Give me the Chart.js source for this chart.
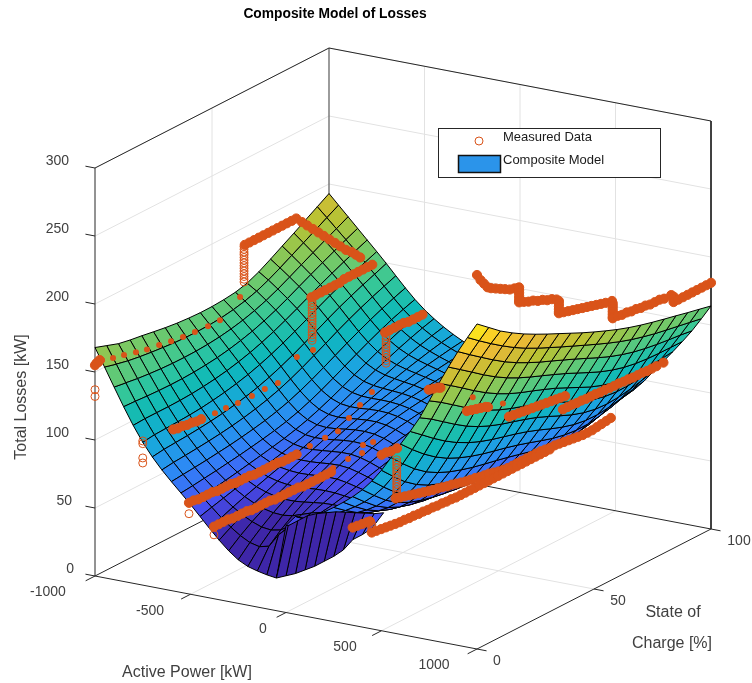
<!DOCTYPE html>
<html>
<head>
<meta charset="utf-8">
<title>Composite Model of Losses</title>
<script src="https://cdn.jsdelivr.net/npm/chart.js@4"></script>
<style>html,body{margin:0;padding:0;background:#fff}canvas{display:block}</style>
</head>
<body>
<canvas id="c" width="752" height="683"></canvas>
<script>
var powerTicks = [-1000, -500, 0, 500, 1000];
var socTicks = [0, 50, 100];
var lossTicks = [0, 50, 100, 150, 200, 250, 300];

// surface grid: one row per power value, one column per state of charge
var powerGrid = [-1000,-950,-900,-850,-800,-750,-700,-650,-600,-550,-500,-450,-400,-350,-300,-250,-200,-150,-100,-50,0,50,100,150,200,250,300,350,400,450,500,550,600,650,700,750,800,850,900,950,1000];
var socGrid = [0,5,10,15,20,25,30,35,40,45,50,55,60,65,70,75,80,85,90,95,100];
var surfaceLoss = [
[168.0,165.0,162.0,160.3,159.0,157.5,156.1,155.0,154.3,153.9,154.0,154.6,155.7,158.0,161.9,166.8,172.0,177.1,182.4,187.7,193.0],
[155.0,152.7,150.7,149.3,148.2,147.3,146.5,146.1,146.1,146.4,147.2,148.6,150.6,153.4,157.2,161.7,166.5,171.3,176.1,181.0,185.8],
[141.6,140.3,139.0,138.1,137.4,137.0,136.9,137.1,137.7,138.7,140.2,142.2,144.8,148.0,151.9,156.3,160.9,165.4,169.9,174.2,178.6],
[128.5,128.1,127.5,127.1,126.9,127.0,127.4,128.2,129.3,130.9,133.0,135.5,138.6,142.2,146.3,150.7,155.1,159.4,163.5,167.5,171.4],
[116.1,116.6,116.6,116.6,116.8,117.3,118.2,119.4,121.0,123.1,125.6,128.6,132.1,136.0,140.2,144.6,149.0,153.0,156.9,160.6,164.2],
[105.0,106.1,106.5,106.9,107.4,108.2,109.4,110.9,112.8,115.1,118.0,121.3,125.1,129.2,133.6,138.0,142.3,146.3,150.0,153.5,157.0],
[95.6,96.8,97.4,98.0,98.8,99.8,101.1,102.7,104.7,107.1,110.1,113.6,117.5,121.8,126.3,130.8,135.1,139.0,142.7,146.1,149.6],
[87.4,88.5,89.2,90.0,90.9,92.0,93.3,94.9,96.9,99.3,102.2,105.7,109.7,114.1,118.6,123.2,127.5,131.5,135.2,138.6,141.9],
[80.1,81.0,81.8,82.7,83.8,84.9,86.3,87.9,89.7,92.0,94.8,98.3,102.2,106.6,111.1,115.7,120.0,124.1,127.8,131.2,134.3],
[73.1,74.0,75.1,76.2,77.5,78.8,80.3,81.9,83.7,85.9,88.6,92.0,95.8,100.1,104.6,109.0,113.3,117.3,121.1,124.3,127.2],
[66.0,67.4,68.9,70.5,72.1,73.8,75.5,77.3,79.2,81.5,84.2,87.5,91.2,95.2,99.5,103.7,107.8,111.6,115.1,118.3,121.0],
[58.5,60.9,63.2,65.5,67.7,69.9,72.0,74.2,76.5,78.9,81.8,85.0,88.5,92.3,96.1,100.0,103.6,107.1,110.3,113.2,115.7],
[51.0,54.6,58.0,61.2,64.1,67.0,69.7,72.5,75.2,78.1,81.1,84.3,87.6,91.0,94.4,97.6,100.8,103.7,106.4,108.9,111.0],
[43.8,48.9,53.5,57.7,61.5,65.1,68.5,71.8,75.1,78.4,81.6,84.8,87.8,90.7,93.6,96.3,98.8,101.1,103.3,105.2,106.9],
[37.3,44.0,49.9,55.0,59.7,64.0,68.0,71.9,75.7,79.2,82.6,85.6,88.4,90.9,93.1,95.2,97.2,99.0,100.6,102.1,103.3],
[32.0,40.3,47.3,53.4,58.8,63.7,68.2,72.4,76.4,80.1,83.4,86.2,88.7,90.7,92.5,94.2,95.6,97.0,98.2,99.3,100.0],
[28.5,38.6,46.4,52.9,58.8,64.0,68.7,73.1,77.0,80.6,83.6,86.2,88.3,90.0,91.5,92.7,93.9,95.0,96.0,96.9,97.5],
[26.5,40.3,47.8,53.9,59.5,64.6,69.1,73.3,77.0,80.2,83.0,85.2,87.1,88.6,89.8,90.9,91.8,92.8,93.8,94.8,95.8],
[25.0,50.0,52.3,56.2,60.5,64.8,68.9,72.6,75.8,78.7,81.2,83.2,84.9,86.3,87.5,88.5,89.5,90.5,91.6,92.8,94.0],
[24.0,56.6,56.7,58.6,61.3,64.5,67.7,70.8,73.7,76.2,78.4,80.3,82.0,83.4,84.6,85.7,86.8,88.0,89.2,90.6,92.0],
[64.0,60.0,59.8,60.3,61.6,63.6,66.0,68.6,71.0,73.3,75.3,77.2,78.8,80.2,81.5,82.7,84.0,85.3,86.8,88.4,90.0],
[72.0,65.5,62.6,61.5,61.6,62.7,64.4,66.4,68.5,70.5,72.4,74.1,75.6,76.9,78.3,79.6,81.0,82.6,84.3,86.1,88.0],
[71.0,67.7,64.5,62.4,61.7,62.0,63.0,64.5,66.2,67.9,69.6,71.1,72.5,73.7,75.0,76.3,77.8,79.6,81.6,83.8,86.0],
[75.0,70.5,66.4,63.6,62.1,61.7,62.1,63.0,64.3,65.6,67.0,68.3,69.4,70.5,71.6,72.9,74.5,76.4,78.8,81.3,83.9],
[79.3,73.7,68.7,65.0,62.8,61.8,61.6,62.0,62.7,63.6,64.6,65.6,66.7,67.4,68.3,69.4,71.0,73.2,75.9,78.8,81.7],
[84.0,77.3,71.4,67.0,64.1,62.5,61.8,61.5,61.7,62.2,62.8,63.4,64.0,64.6,65.3,66.2,67.8,70.2,73.2,76.6,80.0],
[89.1,81.5,74.7,69.6,66.2,64.1,62.8,62.0,61.6,61.6,61.7,62.0,62.3,62.6,62.9,63.7,65.2,67.7,71.1,74.9,78.6],
[94.6,86.4,78.9,73.3,69.4,66.8,65.0,63.8,62.9,62.3,62.0,61.9,61.8,61.7,61.8,62.3,63.7,66.3,69.9,74.0,77.7],
[101.0,92.4,84.5,78.4,74.1,71.2,69.0,67.4,66.1,65.1,64.3,63.7,63.2,62.7,62.3,62.6,63.9,66.5,70.2,74.4,78.0],
[108.8,99.9,91.7,85.3,80.8,77.6,75.1,73.1,71.5,70.2,69.0,67.8,66.7,65.8,65.1,65.1,66.2,68.7,72.3,76.5,80.4],
[118.0,109.1,100.8,94.3,89.5,86.0,83.2,81.0,79.2,77.5,75.9,74.3,72.6,71.1,70.0,69.7,70.6,72.8,76.2,80.1,84.0],
[128.7,119.8,111.6,105.0,100.0,96.2,93.2,90.7,88.7,86.8,84.8,82.6,80.3,78.3,76.8,76.1,76.7,78.5,81.4,84.6,87.4],
[140.0,131.5,123.8,117.2,111.9,107.8,104.5,101.8,99.6,97.5,95.1,92.4,89.5,86.8,84.9,83.9,84.1,85.5,87.7,90.3,92.0],
[150.6,143.7,136.7,130.3,124.8,120.3,116.7,113.8,111.4,109.0,106.3,103.1,99.6,96.4,93.9,92.5,92.3,93.4,95.3,97.5,99.4],
[162.0,156.6,150.3,144.0,138.2,133.4,129.6,126.4,123.8,121.1,118.1,114.4,110.5,106.8,103.9,102.1,101.5,102.2,103.7,105.8,108.0],
[175.8,170.3,164.1,157.8,151.9,146.9,142.7,139.3,136.4,133.4,130.1,126.2,122.0,118.0,114.9,112.8,111.8,112.0,113.1,114.7,116.4],
[190.0,184.0,177.8,171.4,165.5,160.3,155.9,152.3,149.1,145.8,142.3,138.2,134.0,130.0,126.8,124.4,123.1,122.8,123.2,124.1,125.0],
[203.3,197.1,190.8,184.4,178.5,173.3,168.9,165.1,161.6,158.1,154.4,150.4,146.3,142.5,139.3,136.9,135.3,134.4,134.0,133.9,133.8],
[216.0,209.4,203.0,196.7,190.9,185.8,181.4,177.4,173.8,170.1,166.4,162.5,158.6,155.0,152.0,149.5,147.7,146.3,145.2,144.3,143.0],
[227.7,220.9,214.4,208.3,202.7,197.8,193.4,189.4,185.5,181.7,177.9,174.2,170.6,167.3,164.4,162.0,159.9,158.2,156.6,155.0,153.3],
[239.0,232.0,225.0,219.2,214.0,209.4,205.1,201.0,196.9,192.8,189.0,185.4,182.0,179.0,176.4,174.1,172.0,170.0,167.9,166.0,164.0]
];

// dark strip along the front of the valley (soc 0 to 5)
var stripPower = [-50,0,50,100,150,200,250,300,350,400,450];
var stripLow = [24,27,30,34,38,43,48,54,63,68,74];
var stripHigh = [58,63,68,71,73,75,76,77,78,79,81];

// measured runs drawn solid: each run has one power and a list of soc / loss values
var runPower = [-508,-377,-1000,-983,-967,-950,-933,-917,-900,-883,-867,-850,-833,-817,-800,-700,-400,500,400,800,800,800,1000,1000,1000,1000,1000,1000,1000,1000,300,0,-100,-750,-1000];
var runSoc = [
[0,2,4,6,8,10,12,14,16,18,20,22,24,26,28,30,32,34,36,38,40,42,44,46],
[0,2,4,6,8,10,12,14,16,18,20,22,24,26,28,30,32,34,36,38,40,42,44,46,48,50],
[64,66,68,70,72,74,76,78,80,82,84,86],
[87],[88],[89],[90],[91],[92],[93],[94],[95],[96],[96.5],[97],
[68,70,72,74,76,78,80,82,84,86,88,90,92,94],
[75,77,79,81,83,85,87,89,91],
[6,8,10,12,14,16,18,20,22,24,26,28,30,32,34,36,38,40,42,44,46,48,50,52,54,56,58,60,62,64,66,68,70,72,74,76,78,80,82,84,86,88,90,92,94,96,98],
[4,6,8,10,12,14,16,18,20,22,24,26,28,30,32,34,36,38,40,42,44,46,48,50,52,54,56,58,60,62,64,66,68,70,72,74,76,78,80],
[12,14,16,18,20,21],
[30,32,34,36,38,40,42,44,46,48,50,52,54],
[53,55,57,59,61,63,65,67,69,71,73,75,77,79,81,83,85,87,89,91,93,96],
[0,1.5,3,4.5,6,8,10,12,14,16,17.5,18,18,18,18,18,18],
[18,20,22,24,26,28,30,32,34,35],
[35,35,35,35],
[35,37,39,41,43,45,47,49,51,53,55,57.7],
[58,58,58,58,58,58],
[58,60,62,64,66,68,70,72,74,76,78,80,83],
[84,84],
[84,86,88,90,92,94,96,98,100],
[4,6,8,10,11.4],
[61,63,65,66],
[49,51,53,55.6],
[13,15,17,19,21,23,25],
[0,0.7,1.4,2]
];
var runLoss = [
[67,67,66,66,66,66,65,65,65,65,64,64,64,64,63,63,63,63,63,63,62,62,62,62],
[53,53,53,53,52,52,52,52,51,51,51,51,51,50,50,50,50,50,50,49,49,49,49,49,49,49],
[187,187,187,187,187,187,187,187,187,187,187,187],
[184],[181],[178],[175],[172],[169],[166],[163],[160],[158],[156],[154],
[153,153,153,153,153,153,153,154,154,154,154,154,154,154],
[129,129,129,129,129,128,128,128,128],
[92,91,90,89,88,87,86,85,84,83.5,82.5,81.5,81,80,79,78,77.5,77,76,75.5,75,74,73,72.5,72,72,72,72,72,72,72,72,71.5,71,71,70.5,70,69.5,69,68.5,68,68,68,68.5,69,69.5,70],
[66,65.5,65,64.5,64,63.5,63,63,62.5,62.5,62,62,61.5,61.5,61,61,60.5,60.5,60,60,60,60,60,60,60,60,60,60,60,60,60,60,60,60,60,60,60,60,60],
[159,158,157,156,155,154],
[139,138.5,138,137.5,137,136.5,136,135.5,135,134.5,134,133.5,133],
[124,124,124,123.5,123.5,123,123,123,122.5,122.5,122,122,122,121.5,121.5,121,121,121,120.5,120.5,120.5,120.5],
[275,270,266,262,260,258,256,254,252,251,250,250,248,246,244,242,240],
[239,237.6,236,235,233,232,230,229,227,225],
[223,221,219,217],
[216,215,214,213,212,211,210,209,208,207,206,205],
[203,201,199,197,195,193],
[192,192,191,191,190,190,189,189,188,188,188,187,187],
[185,183],
[181,181,181,181,181,181,181,181,181],
[67,66.5,66,65.5,65],
[110,109,108,107],
[70,70,69,69],
[103,102,102,101,101,100,100],
[155,156,156,157]
];

// runs where the single circles can still be told apart
var ringPower = [-1000,-750,-508,-377,-1000,-700,-400,500,400];
var ringSoc = [0,0,0,0,63.7,68.3,75.4,6.5,4];
var ringLoss = [
[137,132],
[106,104,93.5,89.8],
[59],
[47],
[160,162,164,166,168,170,172,174,176,178,180,182,184,186],
[121,123,125,127,129,131,133,135,137,139,141,143,145,147,149,151],
[106,108,110,112,114,116,118,120,122,124,126],
[120,118,116,114,112,110,108,106,104,102,100,98,96,94],
[72,70,68]
];

// measured points that only just show through the surface
var peekPower = [-1000,-1000,-1000,-1000,-1000,-1000,-1000,-1000,-1000,-1000,-1000,-1000,-650,-650,-650,-650,-650,-650,-650,-650,-300,-300,-300,-300,-300,-300,-300,-300,-300,-300,-300,800,800];
var peekSoc = [3,7.7,12.4,17.5,22.2,27.4,32.5,37.6,42.7,48.3,53.4,62,22.7,27.4,32.5,38.5,44,49.6,57.7,64.6,34.7,41.2,46.7,51.4,56.1,61.2,44.6,51,57,57.4,61.7,14.5,27.4];
var peekLoss = [156,153.5,151.6,149,147,145.6,144,142.6,141.8,141,141,150.5,109,108.7,108,107.8,108,107.6,119.6,118.6,83.8,84,84,89.6,95,100,58.8,59.8,59,64.5,62.9,167,151];

var parulaStops = [[62,38,168],[72,82,244],[46,135,247],[26,166,222],[13,184,186],[55,200,151],[125,201,97],[186,194,51],[230,184,56],[250,207,38],[249,251,20]];

var orange = '#D95319';
var dark = '#262626';
var gridGray = '#e2e2e2';

function lossColor(z) {
    var t = Math.max(0, Math.min(1, (z - 48) / 191)) * 10;
    var i = Math.min(9, Math.floor(t));
    var f = t - i;
    var a = parulaStops[i], b = parulaStops[i + 1];
    return 'rgb(' + [0, 1, 2].map(function (k) { return Math.round(a[k] + (b[k] - a[k]) * f); }).join(',') + ')';
}

// 3D view: turns power, soc and loss into the x/y values of the chart's scales
function project(p, s, z) {
    return {
        x: 95 + 0.191 * (p + 1000) + 2.34 * s,
        y: 576 + 0.0365 * (p + 1000) - 1.2 * s - 1.36 * z
    };
}
function depth(p, s, z) {
    return 0.1108 * (p + 1000) - 3.64 * s + 0.448 * z;
}

var datasets = [];

function addLine(a, b, color, width, order) {
    datasets.push({
        type: 'line',
        data: [project(a[0], a[1], a[2]), project(b[0], b[1], b[2])],
        borderColor: color, borderWidth: width, pointRadius: 0, fill: false, tension: 0, order: order, clip: false
    });
}

function addCell(corners, fillColor, order) {
    datasets.push({
        type: 'line',
        cellColor: fillColor,
        data: corners.concat([corners[0]]).map(function (q) { return project(q[0], q[1], q[2]); }),
        borderColor: '#000', borderWidth: 1, pointRadius: 0, fill: false, tension: 0, order: order, clip: false
    });
}

// grid on the walls and the floor
lossTicks.slice(1).forEach(function (z) {
    addLine([-1000, 0, z], [-1000, 100, z], gridGray, 1, 2e6);
    addLine([-1000, 100, z], [1000, 100, z], gridGray, 1, 2e6);
});
addLine([-1000, 50, 0], [-1000, 50, 300], gridGray, 1, 2e6);
addLine([-1000, 50, 0], [1000, 50, 0], gridGray, 1, 2e6);
[-500, 0, 500].forEach(function (p) {
    addLine([p, 100, 0], [p, 100, 300], gridGray, 1, 2e6);
    addLine([p, 0, 0], [p, 100, 0], gridGray, 1, 2e6);
});

// box and ticks
addLine([-1000, 0, 0], [-1000, 0, 300], dark, 1, 1e6);
addLine([-1000, 0, 300], [-1000, 100, 300], dark, 1, 1e6);
addLine([-1000, 100, 300], [1000, 100, 300], dark, 1, 1e6);
addLine([1000, 100, 300], [1000, 100, 0], dark, 1, 1e6);
addLine([-1000, 100, 0], [-1000, 100, 300], '#666', 1.3, 1e6);
addLine([-1000, 0, 0], [1000, 0, 0], dark, 1, 1e6);
addLine([1000, 0, 0], [1000, 100, 0], dark, 1, 1e6);
addLine([-1000, 0, 0], [-1000, 100, 0], dark, 1, 1e6);
addLine([-1000, 100, 0], [1000, 100, 0], dark, 1, 1e6);
powerTicks.forEach(function (p) { addLine([p, 0, 0], [p, -4, 0], dark, 1, 1e6); });
socTicks.forEach(function (s) { addLine([1000, s, 0], [1050, s, 0], dark, 1, 1e6); });
lossTicks.forEach(function (z) { addLine([-1000, 0, z], [-1050, 0, z], dark, 1, 1e6); });

// surface cells, far ones first (a lower order is painted later)
for (var i = 0; i < powerGrid.length - 1; i++) {
    for (var j = 0; j < socGrid.length - 1; j++) {
        var corners = [[i, j], [i + 1, j], [i + 1, j + 1], [i, j + 1]].map(function (q) {
            return [powerGrid[q[0]], socGrid[q[1]], surfaceLoss[q[0]][q[1]]];
        });
        var d = 0;
        corners.forEach(function (q) { d += depth(q[0], q[1], q[2]) / 4; });
        addCell(corners, lossColor(surfaceLoss[i][j]), -d);
    }
}
for (var k = 0; k < stripPower.length - 1; k++) {
    addCell([
        [stripPower[k], 0, stripLow[k]],
        [stripPower[k + 1], 0, stripLow[k + 1]],
        [stripPower[k + 1], 5, stripHigh[k + 1]],
        [stripPower[k], 5, stripHigh[k]]
    ], lossColor(stripLow[k]), -9e5);
}

// measured data
var runPoints = [];
runPower.forEach(function (p, r) {
    runSoc[r].forEach(function (s, n) { runPoints.push(project(p, s, runLoss[r][n])); });
});
var ringPoints = [];
ringPower.forEach(function (p, r) {
    ringLoss[r].forEach(function (z) { ringPoints.push(project(p, ringSoc[r], z)); });
});
var peekPoints = peekPower.map(function (p, n) { return project(p, peekSoc[n], peekLoss[n]); });

datasets.push({ type: 'scatter', label: 'Measured Data', data: runPoints, pointRadius: 4.6, pointBackgroundColor: orange, pointBorderColor: orange, pointBorderWidth: 1, showLine: false, order: -1e6, clip: false });
datasets.push({ type: 'scatter', data: ringPoints, pointRadius: 4, pointBackgroundColor: 'rgba(0,0,0,0)', pointBorderColor: orange, pointBorderWidth: 1, showLine: false, order: -1e6, clip: false });
datasets.push({ type: 'scatter', data: peekPoints, pointRadius: 3, pointBackgroundColor: orange, pointBorderColor: orange, pointBorderWidth: 0, showLine: false, order: -1e6, clip: false });

// fills a cell from its points right before the library strokes the outline
var cellFill = {
    id: 'cellFill',
    beforeDatasetDraw: function (chart, args) {
        var color = chart.data.datasets[args.index].cellColor;
        if (!color) return;
        var g = chart.ctx, pts = args.meta.data;
        g.beginPath();
        g.moveTo(pts[0].x, pts[0].y);
        for (var n = 1; n < 4; n++) g.lineTo(pts[n].x, pts[n].y);
        g.closePath();
        g.fillStyle = color;
        g.fill();
    }
};

var labels = {
    id: 'labels',
    afterDraw: function (chart) {
        var g = chart.ctx;
        var family = '"Liberation Sans", Arial, sans-serif';
        var small = '14px ' + family, big = '16px ' + family, legendFont = '13px ' + family;
        function text(s, x, y, align, font, color) {
            g.font = font || small;
            g.fillStyle = color || '#404040';
            g.textAlign = align || 'center';
            g.textBaseline = 'middle';
            g.fillText(s, x, y);
        }
        g.save();
        text('Composite Model of Losses', 335, 14, 'center', 'bold 13.8px ' + family, '#000');
        lossTicks.forEach(function (z) {
            var s = String(z);
            text(s, s.length == 3 ? 69 : (s.length == 2 ? 72 : 74), project(-1000, 0, z).y - 7, 'right');
        });
        text('-1000', 48, 592); text('-500', 150, 611); text('0', 263, 629); text('500', 345, 647); text('1000', 434, 665);
        text('0', 497, 661); text('50', 618, 601); text('100', 739, 541);
        text('Active Power [kW]', 187, 673, 'center', big);
        text('State of', 673, 613, 'center', big);
        text('Charge [%]', 672, 644, 'center', big);
        g.save();
        g.translate(22, 397);
        g.rotate(-Math.PI / 2);
        text('Total Losses [kW]', 0, 0, 'center', big);
        g.restore();

        // legend
        g.fillStyle = '#fff';
        g.strokeStyle = dark;
        g.lineWidth = 1;
        g.fillRect(438.5, 128.5, 222, 49);
        g.strokeRect(438.5, 128.5, 222, 49);
        g.beginPath();
        g.arc(479, 141, 4, 0, Math.PI * 2);
        g.strokeStyle = orange;
        g.stroke();
        g.fillStyle = '#2b94ea';
        g.fillRect(458, 155, 42, 18);
        g.strokeStyle = '#111';
        g.lineWidth = 1.5;
        g.strokeRect(458.5, 155.5, 42, 17);
        text('Measured Data', 503, 137, 'left', legendFont, '#1a1a1a');
        text('Composite Model', 503, 160, 'left', legendFont, '#1a1a1a');
        g.restore();
    }
};

new Chart(document.getElementById('c'), {
    type: 'scatter',
    data: { datasets: datasets },
    plugins: [cellFill, labels],
    options: {
        responsive: false,
        animation: false,
        events: [],
        layout: { padding: 0, autoPadding: false },
        scales: {
            x: { type: 'linear', min: 0, max: 752, display: false },
            y: { type: 'linear', min: 0, max: 683, reverse: true, display: false }
        },
        plugins: { legend: { display: false }, tooltip: { enabled: false }, title: { display: false } }
    }
});
</script>
</body>
</html>
